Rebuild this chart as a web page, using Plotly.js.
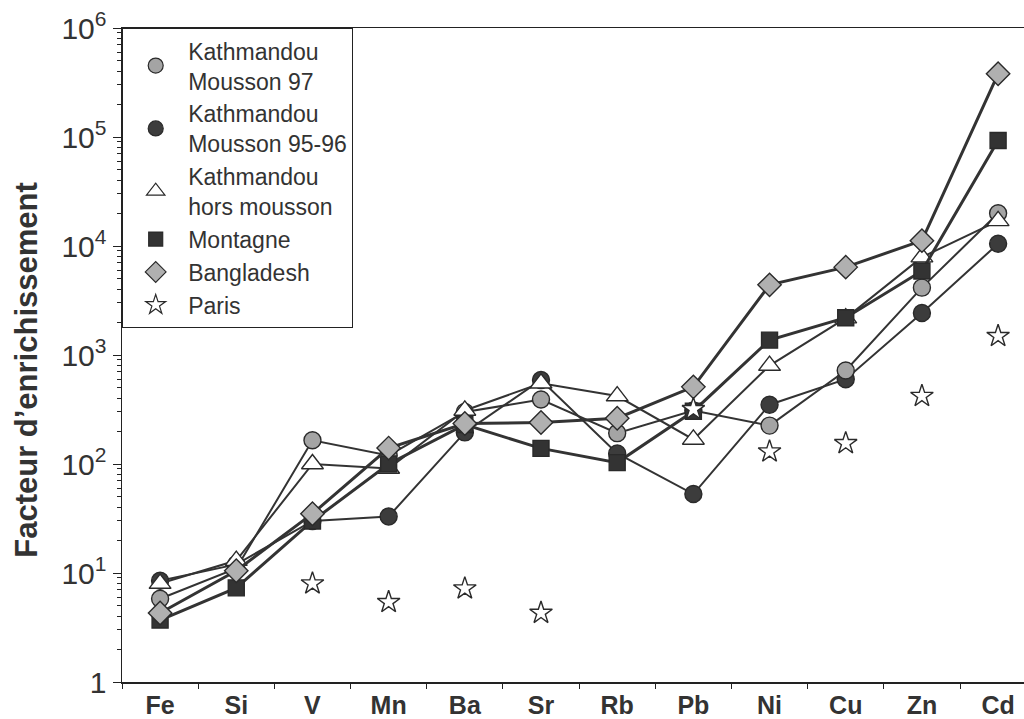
<!DOCTYPE html>
<html><head><meta charset="utf-8">
<script src="https://cdn.plot.ly/plotly-3.0.1.min.js"></script>
<style>html,body{margin:0;padding:0;background:#fff;}#chart{width:1024px;height:719px;}</style>
</head><body><div id="chart"></div>
<script>
const elements = ['Fe','Si','V','Mn','Ba','Sr','Rb','Pb','Ni','Cu','Zn','Cd'];
const mousson97   = [5.8, 11, 165, 120, 300, 390, 192, 310, 225, 720, 4150, 20000];
const mousson9596 = [8.5, 12, 30, 33, 195, 590, 125, 53, 350, 600, 2430, 10500];
const horsMousson = [8.0, 13, 100, 91, 310, 550, 420, 168, 800, 2180, 7900, 17000];
const montagne    = [3.7, 7.3, 30, 100, 230, 139, 103, 305, 1370, 2200, 5900, 93000];
const bangladesh  = [4.3, 10.5, 35, 140, 235, 240, 263, 510, 4400, 6400, 11200, 380000];
const paris       = [null, null, 8.0, 5.4, 7.2, 4.3, null, 318, 130, 155, 420, 1490];
const seriesNames = ['Kathmandou<br>Mousson 97','Kathmandou<br>Mousson 95-96','Kathmandou<br>hors mousson','Montagne','Bangladesh','Paris'];
const yTickVals = [1, 10, 100, 1000, 10000, 100000, 1000000];
const yTickText = ['1','10<sup>1</sup>','10<sup>2</sup>','10<sup>3</sup>','10<sup>4</sup>','10<sup>5</sup>','10<sup>6</sup>'];
const yTitle = "Facteur d’enrichissement";

const lineCol = '#333333';
const styles = [
  {symbol:'circle', size:17, color:'#a4a4a4', lw:2},
  {symbol:'circle', size:17, color:'#3c3c3c', lw:2},
  {symbol:'triangle-up', size:19, color:'#ffffff', lw:2},
  {symbol:'square', size:16, color:'#333333', lw:3},
  {symbol:'diamond', size:18, color:'#b0b0b0', lw:3},
  {symbol:'star', size:17, color:'#ffffff', lw:0}
];
const data = [mousson9596, mousson97, horsMousson, montagne, bangladesh, paris];
const idx = [1, 0, 2, 3, 4, 5];
const traces = [];
idx.forEach((si, k) => {
  const s = styles[si];
  traces.push({
    type:'scatter', x: elements, y: data[k],
    mode: si === 5 ? 'markers' : 'lines+markers',
    line:{color:lineCol, width:s.lw},
    marker:{symbol:s.symbol, size:s.size, color:s.color, line:{color:'#2a2a2a', width:1.4}},
    showlegend:false, cliponaxis:false, hoverinfo:'skip'
  });
});
// legend-only entries (marker symbols without lines)
styles.forEach((s, i) => {
  traces.push({
    type:'scatter', x:[null], y:[null], mode:'markers', name: seriesNames[i],
    marker:{symbol:s.symbol, size:s.size-2, color:s.color, line:{color:'#2a2a2a', width:1.2}},
    showlegend:true
  });
});

const layout = {
  width:1024, height:719,
  margin:{l:122, r:0, t:28, b:37},
  paper_bgcolor:'#ffffff', plot_bgcolor:'#ffffff',
  font:{family:'Liberation Sans, Arial, sans-serif', color:'#333333'},
  showlegend:true,
  legend:{x:0, y:1, xanchor:'left', yanchor:'top', bgcolor:'#ffffff', bordercolor:'#222', borderwidth:1.2,
          font:{size:23, color:'#333'}, itemwidth:55, tracegroupgap:0, traceorder:'normal'},
  xaxis:{
    type:'category', range:[-0.5, 11.34], showline:true, linecolor:'#222', linewidth:1.5, mirror:true,
    ticks:'outside', ticklen:5, tickcolor:'#222', tickson:'boundaries', showgrid:false, zeroline:false,
    tickfont:{size:25, family:'Liberation Sans, Arial, sans-serif', color:'#333', weight:'bold'}, automargin:false
  },
  yaxis:{
    type:'log', range:[0, 6], showline:true, linecolor:'#222', linewidth:1.5,
    ticks:'outside', ticklen:8, tickcolor:'#222', showgrid:false, zeroline:false,
    tickmode:'array', tickvals:yTickVals, ticktext:yTickText,
    tickfont:{size:30, color:'#333'},
    minor:{ticks:'outside', ticklen:4, tickcolor:'#222', dtick:'D1', showgrid:false},
    automargin:false
  },
  annotations:[{
    text:yTitle, textangle:-90, xref:'paper', yref:'paper', x:-0.106, y:0.478,
    xanchor:'center', yanchor:'middle', showarrow:false,
    font:{size:31, color:'#333', weight:'bold'}
  }]
};
Plotly.newPlot('chart', traces, layout, {staticPlot:true});
</script></body></html>
